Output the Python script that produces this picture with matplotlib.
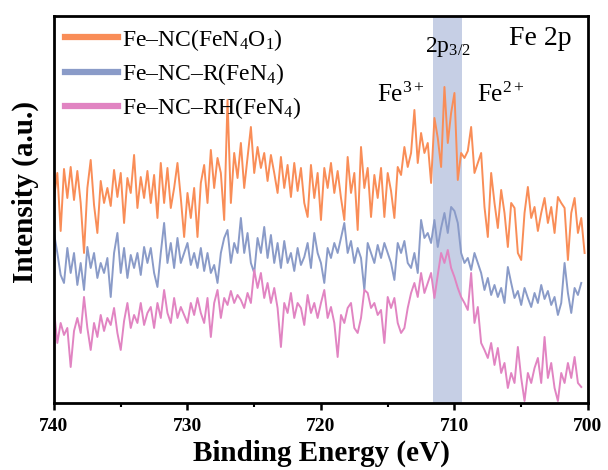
import numpy as np
import matplotlib
matplotlib.use("Agg")
import matplotlib.pyplot as plt

plt.rcParams['font.family'] = ['Liberation Serif', 'DejaVu Serif']
plt.rcParams['mathtext.fontset'] = 'custom'
plt.rcParams['mathtext.rm'] = 'Liberation Serif'
plt.rcParams['mathtext.it'] = 'Liberation Serif:italic'
plt.rcParams['mathtext.bf'] = 'Liberation Serif:bold'

# ---- data (binding energy in eV, intensity in arbitrary units) ----
fe_nc = [
    205, 230, 172, 234,  205, 236, 203, 232,  200, 150, 215, 243,
    198, 170, 222, 200,  215, 197, 233, 206,  230, 180, 225, 210,
    248, 195, 226, 205,  232, 200, 228, 185,  240, 200, 235, 195,
    215, 240, 205, 166,  210, 185, 215, 166,  220, 238, 200, 253,
    215, 245, 230, 183,  303, 200, 250, 225,  260, 215, 246, 276,
    230, 256, 235, 250,  222, 248, 230, 210,  246, 215, 238, 206,
    240, 212, 235, 200,  186, 238, 205, 230,  183, 235, 215, 240,
    210, 232, 205, 183,  246, 210, 230, 173,  256, 215, 235, 186,
    228, 205, 235, 186,  230, 212, 185, 236,  228, 256, 236, 250,
    293, 240, 270, 250,  260, 220, 285, 265,  236, 316, 260, 290,
    310, 223, 250, 245,  252, 276, 230, 240,  250, 196, 166, 230,
    200, 175, 213, 190,  156, 200, 195, 150,  143, 190, 216, 185,
    196, 172, 190, 205,  180, 196, 170, 206,  200, 195, 143, 190,
    205, 170, 185, 150,
]
fe_nc_r = [
    170, 150, 128, 120,  155, 130, 150, 118,  140, 113, 156, 135,
    150, 125, 140, 130,  145, 106, 150, 170,  130, 155, 125, 148,
    135, 150, 128, 156,  140, 155, 130, 116,  150, 180, 140, 160,
    135, 165, 140, 150,  160, 138, 150, 135,  155, 132, 150, 130,
    138, 120, 150, 165,  173, 140, 160, 150,  185, 150, 170, 140,
    130, 165, 150, 176,  145, 168, 140, 160,  135, 162, 140, 150,
    132, 155, 138, 146,  160, 135, 170, 150,  140, 120, 155, 145,
    160, 150, 165, 180,  150, 162, 140, 155,  145, 113, 160, 150,
    140, 158, 145, 160,  150, 140, 123, 160,  150, 162, 140, 135,
    150, 130, 183, 165,  170, 160, 183, 156,  175, 190, 170, 196,
    192, 180, 150, 140,  145, 133, 150, 140,  130, 113, 125, 108,
    118, 106, 115, 100,  136, 120, 105, 112,   98, 115, 105,  96,
    110, 100, 118, 104,  112,  98, 106,  88,  100, 140, 110,  90,
    115, 108, 120,
]
fe_nc_rh = [
     93,  60,  80,  68,   75,  36,  72,  85,   70, 106,  75,  53,
     80,  66,  88,  72,   85,  78,  95,  70,   53,  82, 100,  75,
     88,  80, 100,  78,   90,  96,  75, 100,   85, 113,  90,  80,
    105,  85,  96,  88,   80, 100,  88, 105,   90,  80, 105,  66,
    100, 113,  85, 105,   98, 112, 100, 108,  103,  95, 110, 100,
    133, 115, 130, 105,  120, 100, 115,  95,   56, 100,  90, 110,
     85, 100,  95,  78,  108,  90, 100,  85,  100, 113,  85,  96,
     80,  46,  88,  80,   95, 100,  75,  70,   85, 113, 110,  95,
    100,  88,  93,  60,  106,  95, 105,  80,   70,  75,  95, 110,
    120, 106, 130, 110,  120, 130, 105, 128,  150, 140, 153, 135,
    126, 115, 106, 100,   93, 130,  80,  96,   60,  53,  45,  60,
     38,  55,  30,  40,   15,  30,  20,  56,   25,   2,  30,  20,
     35,  45,  20,  66,   25,  40,  15,   2,   30,  20,  40,  25,
     46,  20,  16,
]
step = 0.25
start_energy = 740.0
labels = ['Fe–NC(FeN$_{\\mathrm{4}}$O$_{\\mathrm{1}}$)',
          'Fe–NC–R(FeN$_{\\mathrm{4}}$)',
          'Fe–NC–RH(FeN$_{\\mathrm{4}}$)']
colors = ['#F98D57', '#8A9BC8', '#E184C2']
band = (709.4, 711.6)
xticks = [740, 730, 720, 710, 700]

series = [fe_nc, fe_nc_r, fe_nc_rh]

fig = plt.figure(figsize=(6.08, 4.70), dpi=100)
ax = fig.add_axes([0.0888, 0.1426, 0.967 - 0.0888, 0.966 - 0.1426])

ax.axvspan(band[0], band[1], color='#C6CFE5', lw=0, zorder=0)
for vals, lab, col in zip(series, labels, colors):
    e = start_energy - step * np.arange(len(vals))
    ax.plot(e, vals, color=col, lw=1.4, label=lab, zorder=2)

ax.set_xlim(740, 700)
ax.set_ylim(0, 387)
ax.set_xticks(xticks)
ax.set_xticks([735, 725, 715, 705], minor=True)
ax.set_yticks([])
ax.tick_params(axis='x', which='major', direction='out', length=5, width=1.8,
               labelsize=14, pad=6)
ax.tick_params(axis='x', which='minor', direction='out', length=3, width=1.5)
for t in ax.get_xticklabels():
    t.set_fontweight('bold')
for s in ax.spines.values():
    s.set_linewidth(2.0)

ax.set_xlabel('Binding Energy (eV)', fontsize=21, fontweight='bold', labelpad=3)
ax.set_ylabel('Intensity (a.u.)', fontsize=21, fontweight='bold')
ax.yaxis.set_label_coords(-0.028, 0.545)

leg = ax.legend(loc='upper left', frameon=False, fontsize=17,
                handlelength=2.25, handletextpad=0.2, labelspacing=0.35,
                borderaxespad=0.25, borderpad=0.2)
for h in leg.get_lines():
    h.set_linewidth(4.5)

ax.text(0.91, 0.943, 'Fe 2p', transform=ax.transAxes, fontsize=20,
        ha='center', va='center')
ax.text(710.5, 0.92, '2p$_{\\mathrm{3/2}}$', transform=ax.get_xaxis_transform(),
        fontsize=17, ha='center', va='center')
ax.text(714.0, 0.795, 'Fe$^{\\mathrm{3+}}$', transform=ax.get_xaxis_transform(),
        fontsize=18, ha='center', va='center')
ax.text(706.5, 0.795, 'Fe$^{\\mathrm{2+}}$', transform=ax.get_xaxis_transform(),
        fontsize=18, ha='center', va='center')

fig.savefig('out.png', dpi=100)
